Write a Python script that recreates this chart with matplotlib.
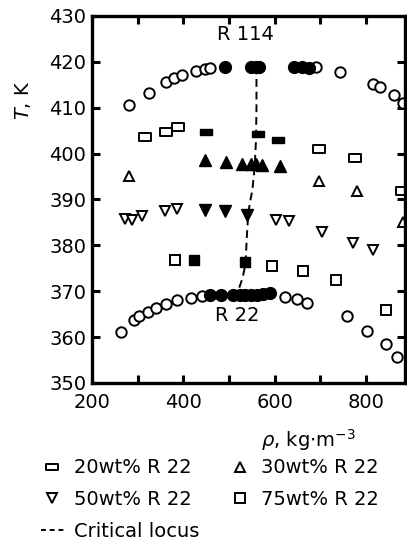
import matplotlib
matplotlib.use("Agg")
import matplotlib.pyplot as plt
from matplotlib.lines import Line2D
from matplotlib.path import Path

plt.rcParams["font.family"] = ["DejaVu Sans"]
plt.rcParams["mathtext.fontset"] = "dejavusans"

# pure R114 (open = two-phase, filled = near critical)
r114_rho = [281, 325, 362, 380, 398, 427, 447, 459, 690, 742, 816, 830, 862, 880]
r114_T = [410.6, 413.3, 415.6, 416.4, 417.1, 418.0, 418.4, 418.6, 418.8, 417.7, 415.1, 414.6, 412.8, 411.1]
r114_crit_rho = [492, 547, 558, 566, 642, 660, 674]
r114_crit_T = [418.9, 418.9, 418.9, 418.9, 418.9, 418.8, 418.7]

# 20 wt% R22
w20_rho = [316, 362, 389, 697, 775, 878]
w20_T = [403.6, 404.7, 405.7, 400.9, 399.1, 391.9]
w20_crit_rho = [449, 564, 607]
w20_crit_T = [404.8, 404.2, 403.0]

# 30 wt% R22
w30_rho = [282, 697, 779, 880]
w30_T = [395.2, 394.0, 391.8, 385.0]
w30_crit_rho = [447, 494, 529, 548, 560, 572, 611]
w30_crit_T = [398.7, 398.2, 397.7, 397.8, 397.8, 397.6, 397.3]

# 50 wt% R22
w50_rho = [272, 287, 309, 360, 385, 602, 631, 704, 771, 815]
w50_T = [385.8, 385.6, 386.5, 387.4, 388.0, 385.6, 385.3, 382.9, 380.5, 378.9]
w50_crit_rho = [447, 491, 540]
w50_crit_T = [387.7, 387.4, 386.7]

# 75 wt% R22
w75_rho = [381, 595, 661, 733, 843]
w75_T = [376.9, 375.6, 374.5, 372.5, 365.8]
w75_crit_rho = [423, 534]
w75_crit_T = [376.9, 376.3]

# pure R22
r22_rho = [263, 292, 303, 323, 341, 362, 385, 416, 440, 622, 649, 670, 758, 803, 843, 867]
r22_T = [361.1, 363.8, 364.5, 365.5, 366.4, 367.3, 368.0, 368.5, 368.9, 368.7, 368.3, 367.5, 364.5, 361.4, 358.5, 355.6]
r22_crit_rho = [458, 483, 509, 523, 535, 548, 562, 575, 589]
r22_crit_T = [369.2, 369.2, 369.2, 369.2, 369.2, 369.2, 369.2, 369.3, 369.5]

# critical locus
locus_rho = [560, 560, 559, 556, 551, 547, 542, 539, 536, 530, 518]
locus_T = [419, 410, 403, 397, 392, 390, 387, 382, 376, 373, 369.5]

# flat rectangle marker for 20 wt%
flat_rect = Path([(-1, -0.58), (1, -0.58), (1, 0.58), (-1, 0.58), (-1, -0.58)],
                 [Path.MOVETO, Path.LINETO, Path.LINETO, Path.LINETO, Path.CLOSEPOLY])

fig = plt.figure(figsize=(4.07, 5.51), dpi=100)
ax = fig.add_axes([0.226, 0.305, 0.769, 0.666])

fs = 14
open_kw = dict(ls="none", mfc="white", mec="black", mew=1.4)
fill_kw = dict(ls="none", mfc="black", mec="black", mew=1.0)

ax.plot(locus_rho, locus_T, color="black", lw=1.4, ls=(0, (4, 2.5)), zorder=1)

ax.plot(r114_rho, r114_T, marker="o", ms=7.5, **open_kw)
ax.plot(r114_crit_rho, r114_crit_T, marker="o", ms=8.5, **fill_kw)
ax.plot(w20_rho, w20_T, marker=flat_rect, ms=9, **open_kw)
ax.plot(w20_crit_rho, w20_crit_T, marker=flat_rect, ms=8.5, **fill_kw)
ax.plot(w30_rho, w30_T, marker="^", ms=7.5, **open_kw)
ax.plot(w30_crit_rho, w30_crit_T, marker="^", ms=8, **fill_kw)
ax.plot(w50_rho, w50_T, marker="v", ms=7.5, **open_kw)
ax.plot(w50_crit_rho, w50_crit_T, marker="v", ms=8, **fill_kw)
ax.plot(w75_rho, w75_T, marker="s", ms=7, **open_kw)
ax.plot(w75_crit_rho, w75_crit_T, marker="s", ms=7, **fill_kw)
ax.plot(r22_rho, r22_T, marker="o", ms=7.5, **open_kw)
ax.plot(r22_crit_rho, r22_crit_T, marker="o", ms=8.5, **fill_kw)

ax.text(535, 425.9, "R 114", fontsize=fs, ha="center", va="center")
ax.text(517, 364.6, "R 22", fontsize=fs, ha="center", va="center")

ax.set_xlim(200, 885)
ax.set_ylim(350, 430)
ax.set_xticks([200, 300, 400, 500, 600, 700, 800])
ax.set_xticklabels(["200", "", "400", "", "600", "", "800"])
ax.set_yticks(range(350, 431, 10))
ax.tick_params(direction="in", length=6, width=2.2, top=True, right=True,
               labelsize=fs)
ax.tick_params(axis="x", pad=7)
ax.tick_params(axis="y", pad=4)
for s in ax.spines.values():
    s.set_linewidth(2.4)

ax.set_xlabel(r"$\rho$, kg$\cdot$m$^{-3}$", fontsize=fs)
ax.xaxis.set_label_coords(0.69, -0.12)
ax.set_ylabel("$T$, K", fontsize=fs)
ax.yaxis.set_label_coords(-0.19, 0.77)

handles = [
    Line2D([], [], marker=flat_rect, ms=8, **open_kw),
    Line2D([], [], marker="v", ms=7.5, **open_kw),
    Line2D([], [], color="black", lw=1.4, ls=(0, (2.5, 2))),
    Line2D([], [], marker="^", ms=7.5, **open_kw),
    Line2D([], [], marker="s", ms=7, **open_kw),
]
labels = ["20wt% R 22", "50wt% R 22", "Critical locus", "30wt% R 22", "75wt% R 22"]
fig.legend(handles, labels, loc="upper left", bbox_to_anchor=(0.1, 0.168),
           ncol=2, frameon=False, fontsize=fs, handlelength=1.2,
           handletextpad=0.5, columnspacing=1.5, labelspacing=0.66,
           borderaxespad=0, borderpad=0)

fig.savefig("out.png", dpi=100)
